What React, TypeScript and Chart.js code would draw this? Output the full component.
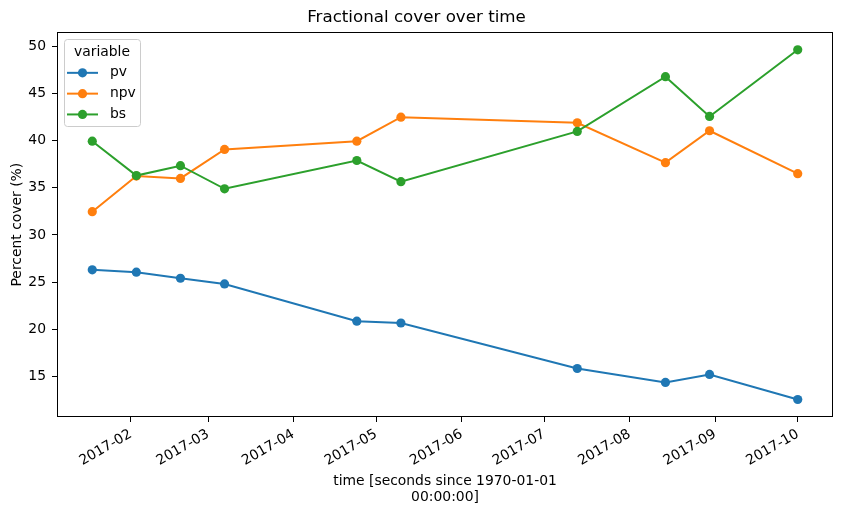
import React, { useEffect, useRef } from "react";
import { Chart, registerables } from "chart.js";

Chart.register(...registerables);

// ---- data ----
const dates = [
  "2017-01-18", "2017-02-03", "2017-02-19", "2017-03-07", "2017-04-24",
  "2017-05-10", "2017-07-13", "2017-08-14", "2017-08-30", "2017-10-01",
];
const pv = [26.3, 26.05, 25.4, 24.8, 20.85, 20.65, 15.82, 14.34, 15.19, 12.53];
const npv = [32.47, 36.25, 36.0, 39.08, 39.95, 42.5, 41.9, 37.67, 41.06, 36.5];
const bs = [39.95, 36.3, 37.35, 34.9, 37.9, 35.65, 40.99, 46.8, 42.58, 49.65];
const seriesNames = ["pv", "npv", "bs"];
const seriesColors = ["#1f77b4", "#ff7f0e", "#2ca02c"];
const monthTicks = [
  "2017-02-01", "2017-03-01", "2017-04-01", "2017-05-01", "2017-06-01",
  "2017-07-01", "2017-08-01", "2017-09-01", "2017-10-01",
];
const yTicks = [15, 20, 25, 30, 35, 40, 45, 50];
const chartTitle = "Fractional cover over time";
const xTitle = ["time [seconds since 1970-01-01", "00:00:00]"];
const yTitle = "Percent cover (%)";
const legendTitle = "variable";

const FONT = "'DejaVu Sans', sans-serif";
const toMs = (d: string) => Date.parse(d + "T00:00:00Z");

const frameAndLegend = {
  id: "frameAndLegend",
  afterDraw(chart: any) {
    const { ctx, chartArea } = chart;
    ctx.save();
    // axes frame
    ctx.strokeStyle = "#000";
    ctx.lineWidth = 1;
    ctx.strokeRect(
      Math.round(chartArea.left) + 0.5,
      Math.round(chartArea.top) + 0.5,
      Math.round(chartArea.right - chartArea.left) - 1,
      Math.round(chartArea.bottom - chartArea.top) - 1
    );
    // legend
    const x = chartArea.left + 7;
    const y = chartArea.top + 7;
    const w = 76;
    const h = 87;
    ctx.beginPath();
    (ctx as any).roundRect(Math.round(x) + 0.5, Math.round(y) + 0.5, w, h, 3);
    ctx.fillStyle = "rgba(255,255,255,0.8)";
    ctx.fill();
    ctx.strokeStyle = "#cccccc";
    ctx.lineWidth = 1;
    ctx.stroke();
    ctx.font = `13.9px ${FONT}`;
    ctx.fillStyle = "#000";
    ctx.textBaseline = "middle";
    ctx.textAlign = "center";
    ctx.fillText(legendTitle, x + w / 2, y + 13);
    ctx.textAlign = "left";
    chart.data.datasets.forEach((ds: any, i: number) => {
      const cy = y + 33.5 + i * 20.8;
      ctx.strokeStyle = ds.borderColor;
      ctx.lineWidth = 2;
      ctx.beginPath();
      ctx.moveTo(x + 3, cy);
      ctx.lineTo(x + 34, cy);
      ctx.stroke();
      ctx.fillStyle = ds.borderColor;
      ctx.beginPath();
      ctx.arc(x + 18.5, cy, 4.6, 0, Math.PI * 2);
      ctx.fill();
      ctx.fillStyle = "#000";
      ctx.fillText(ds.label, x + 46, cy);
    });
    ctx.restore();
  },
};

export default function App() {
  const ref = useRef<HTMLCanvasElement | null>(null);

  useEffect(() => {
    if (!ref.current) return;
    Chart.defaults.font.family = FONT;
    Chart.defaults.color = "#000";

    const xs = dates.map(toMs);
    const t0 = xs[0];
    const t1 = xs[xs.length - 1];
    const xm = 0.05 * (t1 - t0);
    const all = [...pv, ...npv, ...bs];
    const vmin = Math.min(...all);
    const vmax = Math.max(...all);
    const ym = 0.05 * (vmax - vmin);

    const series = [pv, npv, bs];
    const chart = new Chart(ref.current, {
      type: "line",
      data: {
        datasets: series.map((vals, i) => ({
          label: seriesNames[i],
          data: vals.map((v, j) => ({ x: xs[j], y: v })),
          borderColor: seriesColors[i],
          backgroundColor: seriesColors[i],
          pointBackgroundColor: seriesColors[i],
          pointBorderWidth: 0,
          pointRadius: 4.6,
          borderWidth: 2,
          tension: 0,
          fill: false,
          order: series.length - i,
        })),
      },
      plugins: [frameAndLegend],
      options: {
        animation: false,
        responsive: false,
        devicePixelRatio: 1,
        events: [],
        layout: { padding: { left: 0, right: 8, top: 0, bottom: 0 } },
        plugins: {
          legend: { display: false },
          tooltip: { enabled: false },
          title: {
            display: true,
            text: chartTitle,
            color: "#000",
            font: { size: 16.7, weight: "normal", family: FONT },
            padding: { top: 8, bottom: 4.3 },
          },
        },
        scales: {
          x: {
            type: "linear",
            min: t0 - xm,
            max: t1 + xm,
            afterBuildTicks: (s: any) => {
              s.ticks = monthTicks.map((d) => ({ value: toMs(d) }));
            },
            afterFit: (s: any) => {
              s.height = 96;
            },
            ticks: {
              autoSkip: false,
              minRotation: 30,
              maxRotation: 30,
              padding: 4,
              color: "#000",
              font: { size: 13.9, family: FONT },
              callback: (v: any) => new Date(Number(v)).toISOString().slice(0, 7),
            },
            grid: {
              display: true,
              drawOnChartArea: false,
              drawTicks: true,
              tickLength: 5,
              tickColor: "#000",
              tickWidth: 1,
            },
            border: { display: false },
            title: {
              display: true,
              text: xTitle,
              color: "#000",
              font: { size: 13.9, family: FONT },
              padding: { top: 0, bottom: 7 },
            },
          },
          y: {
            type: "linear",
            min: vmin - ym,
            max: vmax + ym,
            afterBuildTicks: (s: any) => {
              s.ticks = yTicks.map((v) => ({ value: v }));
            },
            afterFit: (s: any) => {
              s.width = 57;
            },
            ticks: {
              padding: 6,
              color: "#000",
              font: { size: 13.9, family: FONT },
            },
            grid: {
              display: true,
              drawOnChartArea: false,
              drawTicks: true,
              tickLength: 5,
              tickColor: "#000",
              tickWidth: 1,
            },
            border: { display: false },
            title: {
              display: true,
              text: yTitle,
              color: "#000",
              font: { size: 13.9, family: FONT },
              padding: { top: 9, bottom: 0 },
            },
          },
        },
      },
    });
    return () => chart.destroy();
  }, []);

  return (
    <div style={{ position: "absolute", left: 0, top: 0, width: 841, height: 513, background: "#fff" }}>
      <canvas ref={ref} width={841} height={513} style={{ display: "block" }} />
    </div>
  );
}
